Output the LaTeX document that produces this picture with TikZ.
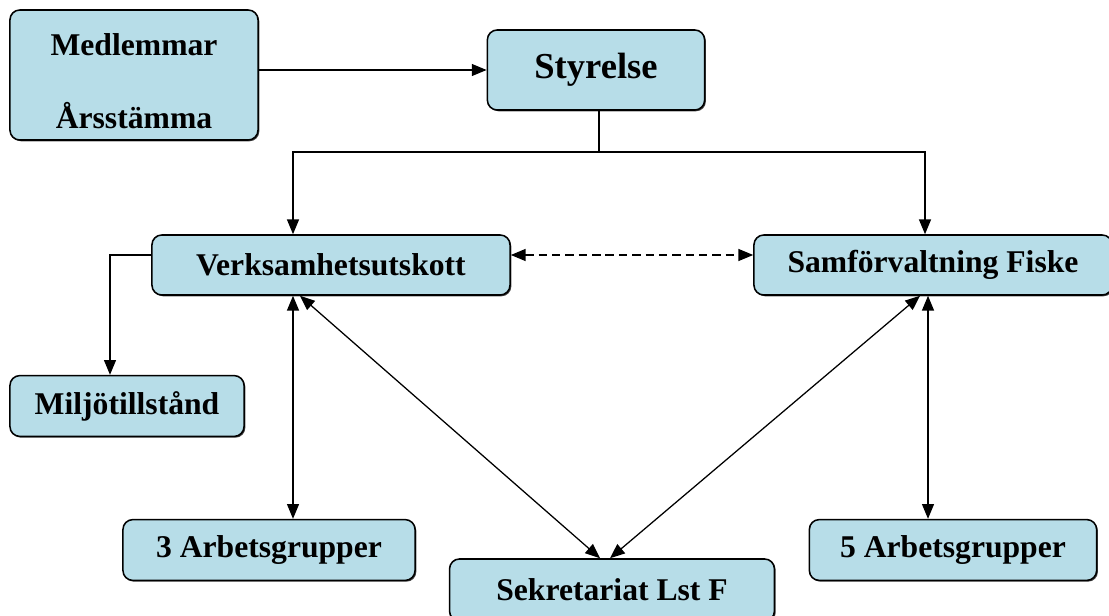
\documentclass[tikz,border=0pt]{standalone}
\usepackage{fontspec}
\setmainfont{Liberation Serif}
\usepackage{tikz}
\usetikzlibrary{shapes,arrows.meta,positioning,calc,shadows}
\usepackage{xcolor}
\definecolor{boxblue}{RGB}{183,221,232}

\tikzset{
  orgbox/.style={draw=black, line width=1.1pt, fill=boxblue, rounded corners=7pt,
    font=\fontsize{22.5}{27}\selectfont\bfseries, align=center, inner sep=0pt,
    drop shadow={shadow xshift=0.9pt, shadow yshift=-0.9pt, opacity=1, fill=black!75}},
  arr/.style={line width=0.9pt, -{Triangle[length=10.5pt,width=8.5pt]}},
  dblarr/.style={line width=0.9pt, {Triangle[length=10.5pt,width=8.5pt]}-{Triangle[length=10.5pt,width=8.5pt]}}
}

\begin{document}
\begin{tikzpicture}[x=0.025cm, y=-0.025cm]
\useasboundingbox (0,0) rectangle (1109,616);

% === TOP: members and board ===
\node[orgbox, minimum width=6.2cm, minimum height=3.25cm,
      font=\fontsize{22.5}{52}\selectfont\bfseries] (medl) at (134,75) {\rule{0pt}{25pt}Medlemmar\\Årsstämma};
\node[orgbox, minimum width=5.43cm, minimum height=2cm,
      font=\fontsize{26}{30}\selectfont\bfseries] (styr) at (596,70) {Styrelse};

% === MIDDLE: committees ===
\node[orgbox, minimum width=8.95cm, minimum height=1.5cm] (verk) at (331,265) {Verksamhetsutskott};
\node[orgbox, minimum width=8.95cm, minimum height=1.5cm] (samf) at (933,265) {Samförvaltning Fiske};

% === BOTTOM: groups ===
\node[orgbox, minimum width=5.85cm, minimum height=1.52cm] (milj) at (127,406) {Miljötillstånd};
\node[orgbox, minimum width=7.3cm, minimum height=1.52cm] (arb3) at (269,550) {3 Arbetsgrupper};
\node[orgbox, minimum width=8.12cm, minimum height=1.55cm] (sekr) at (612,590) {Sekretariat Lst F};
\node[orgbox, minimum width=7.18cm, minimum height=1.52cm] (arb5) at (953,550) {5 Arbetsgrupper};

% === connectors ===
\draw[arr] (styr.west -| medl.east) -- (styr.west);
\coordinate (tee) at (599,152);
\draw[line width=0.9pt] ($(styr.south)+(3,0)$) -- (tee);
\draw[arr] (tee) -| ($(verk.north)+(-38,0)$);
\draw[arr] (tee) -| ($(samf.north)+(-8,0)$);
\draw[dblarr, dash pattern=on 6pt off 3.5pt] ($(verk.east)+(0,-10)$) -- ($(samf.west)+(0,-10)$);
\draw[arr] ($(verk.west)+(0,-10)$) -| ($(milj.north)+(-17,0)$);
\draw[dblarr] ($(verk.south)+(-38,0)$) -- ($(arb3.north)+(24,0)$);
\draw[dblarr] ($(verk.south)+(-31,0)$) -- ($(sekr.north)+(-12,0)$);
\draw[dblarr] ($(samf.south)+(-13,0)$) -- ($(sekr.north)+(-2,0)$);
\draw[dblarr] ($(samf.south)+(-5,0)$) -- ($(arb5.north)+(-25,0)$);

\end{tikzpicture}
\end{document}
